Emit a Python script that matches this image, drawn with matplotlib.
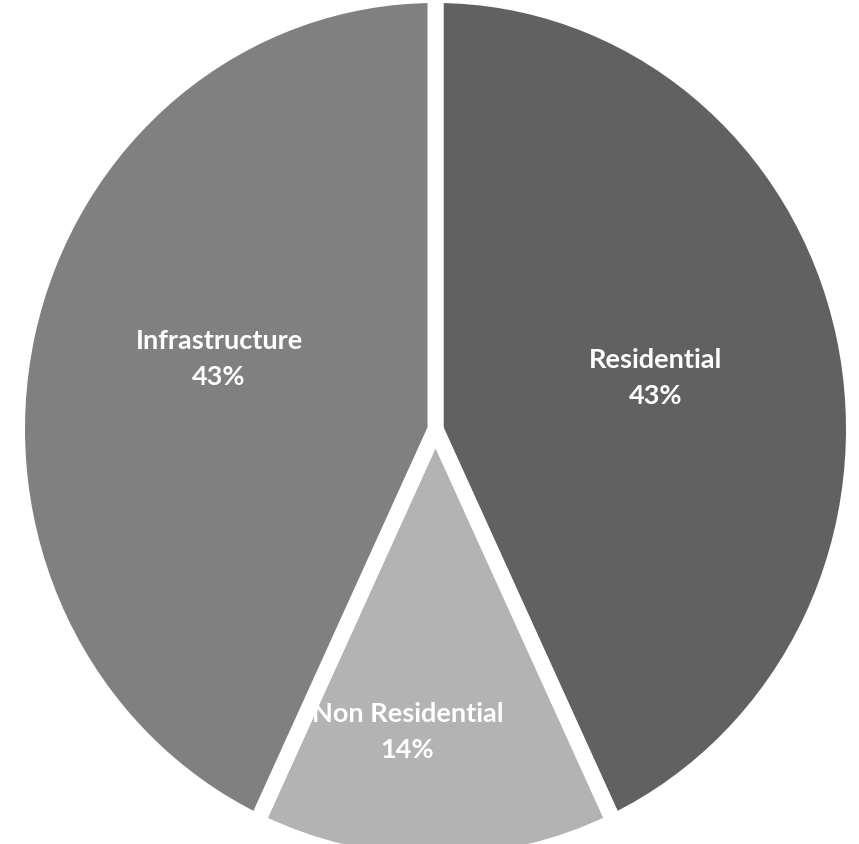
import matplotlib
matplotlib.use("Agg")
from matplotlib import pyplot as plt

# data
labels = ["Residential", "Non Residential", "Infrastructure"]
shares = [43, 14, 43]
colors = ["#616161", "#b3b3b3", "#808080"]
# label anchor points (axes data units, pie radius = 1)
label_xy = [(0.526, 0.120), (-0.067, -0.697), (-0.517, 0.163)]

fig = plt.figure(figsize=(8.59, 8.45), dpi=100)
# the original pie is slightly taller than wide, so the axes is not square
ax = fig.add_axes([17 / 859, -19 / 845, 837 / 859, 868 / 845])

wedges, _ = ax.pie(shares, colors=colors, startangle=90, counterclock=False,
                   radius=1.0,
                   wedgeprops=dict(edgecolor="white", linewidth=11.5))
ax.set_aspect("auto")
ax.set_xlim(-1, 1)
ax.set_ylim(-1, 1)
ax.axis("off")

for name, pct, (x, y) in zip(labels, shares, label_xy):
    ax.text(x, y, f"{name}\n{pct}%", ha="center", va="center",
            color="white", fontsize=19.5, fontweight="bold", family="Lato",
            linespacing=1.6)

fig.savefig("out.png", dpi=100)
